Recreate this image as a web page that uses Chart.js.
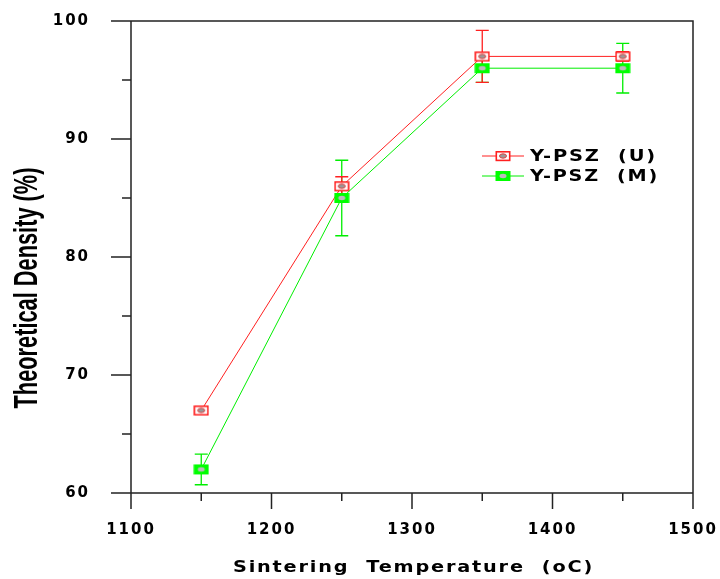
<!DOCTYPE html>
<html>
<head>
<meta charset="utf-8">
<script src="https://cdn.jsdelivr.net/npm/chart.js@4/dist/chart.umd.min.js"></script>
<style>
  html, body { margin: 0; padding: 0; background: #fff; }
  #wrap { width: 720px; height: 579px; }
</style>
</head>
<body>
<div id="wrap"><canvas id="densityChart"></canvas></div>
<script>
// data
const temps = [1150, 1250, 1350, 1450];
const uDensity = [67, 86, 97, 97];
const uError = [0, 0.8, 2.2, 0.4];
const mDensity = [62, 85, 96, 96];
const mError = [1.3, 3.2, 1.2, 2.1];
const seriesNames = ['Y-PSZ  (U)', 'Y-PSZ  (M)'];
const xTicks = [1100, 1200, 1300, 1400, 1500];
const xMinor = [1150, 1250, 1350, 1450];
const yTicks = [60, 70, 80, 90, 100];
const yMinor = [65, 75, 85, 95];
const xTitle = 'Sintering  Temperature  (oC)';
const yTitle = 'Theoretical Density (%)';

const RED = '#ff2020';
const GREEN = '#00ee00';
const FRAME = '#222';

// marker images
function makeMarker(filled) {
    const c = document.createElement('canvas');
    c.width = 16; c.height = 12;
    const g = c.getContext('2d');
    if (filled) {
        g.fillStyle = '#00ff00';
        g.fillRect(0.5, 1, 15, 10);
        g.fillStyle = '#bbbbbb';
        g.beginPath(); g.ellipse(8, 6, 3.5, 2.2, 0, 0, Math.PI * 2); g.fill();
    } else {
        g.fillStyle = '#fff';
        g.fillRect(1, 1.5, 14, 9);
        g.strokeStyle = RED; g.lineWidth = 1.6;
        g.strokeRect(1.3, 1.8, 13.4, 8.6);
        g.fillStyle = '#999';
        g.strokeStyle = '#e04040'; g.lineWidth = 1;
        g.beginPath(); g.ellipse(8, 6, 3.5, 2.2, 0, 0, Math.PI * 2); g.fill(); g.stroke();
    }
    return c;
}
const uMarker = makeMarker(false);
const mMarker = makeMarker(true);

const toPoints = (xs, ys) => xs.map((x, i) => ({ x: x, y: ys[i] }));

// no edge padding from the scales, the layout padding places the plot box
const noPad = s => { s.paddingTop = 0; s.paddingBottom = 0; s.paddingLeft = 0; s.paddingRight = 0; };

// text stretched sideways to a given width (the original face is an extended one)
function wideText(ctx, text, x, y, width) {
    const w = ctx.measureText(text).width;
    ctx.save();
    ctx.translate(x, y);
    ctx.scale(width / w, 1);
    ctx.textAlign = 'left';
    ctx.fillText(text, 0, 0);
    ctx.restore();
}

// error bars, frame, ticks, legend and axis titles
const decor = {
    id: 'decor',
    beforeLayout(chart) { chart.ctx.letterSpacing = '2px'; },
    beforeDraw(chart) { chart.ctx.letterSpacing = '2px'; },
    beforeDatasetsDraw(chart) {
        const ctx = chart.ctx, xs = chart.scales.x, ys = chart.scales.y;
        const bars = [[mDensity, mError, GREEN], [uDensity, uError, RED]];
        ctx.save();
        ctx.lineWidth = 1.3;
        bars.forEach(([vals, errs, col]) => {
            ctx.strokeStyle = col;
            temps.forEach((t, i) => {
                if (!errs[i]) return;
                const px = xs.getPixelForValue(t);
                const top = ys.getPixelForValue(vals[i] + errs[i]);
                const bot = ys.getPixelForValue(vals[i] - errs[i]);
                ctx.beginPath();
                ctx.moveTo(px, top); ctx.lineTo(px, bot);
                ctx.moveTo(px - 6.5, top); ctx.lineTo(px + 6.5, top);
                ctx.moveTo(px - 6.5, bot); ctx.lineTo(px + 6.5, bot);
                ctx.stroke();
            });
        });
        ctx.restore();
    },
    afterDraw(chart) {
        const ctx = chart.ctx, xs = chart.scales.x, ys = chart.scales.y;
        const a = chart.chartArea;
        ctx.save();
        ctx.strokeStyle = FRAME;
        ctx.lineWidth = 1.5;
        ctx.beginPath();
        // frame
        ctx.moveTo(a.left - 20, a.top); ctx.lineTo(a.right, a.top); ctx.lineTo(a.right, a.bottom + 16);
        ctx.moveTo(a.left, a.top); ctx.lineTo(a.left, a.bottom + 16);
        ctx.moveTo(a.left - 20, a.bottom); ctx.lineTo(a.right, a.bottom);
        yTicks.forEach(v => { const p = ys.getPixelForValue(v); ctx.moveTo(a.left - 20, p); ctx.lineTo(a.left, p); });
        yMinor.forEach(v => { const p = ys.getPixelForValue(v); ctx.moveTo(a.left - 9, p); ctx.lineTo(a.left, p); });
        xTicks.forEach(v => { const p = xs.getPixelForValue(v); ctx.moveTo(p, a.bottom); ctx.lineTo(p, a.bottom + 16); });
        xMinor.forEach(v => { const p = xs.getPixelForValue(v); ctx.moveTo(p, a.bottom); ctx.lineTo(p, a.bottom + 8); });
        ctx.stroke();

        // legend
        const items = [[RED, uMarker], [GREEN, mMarker]];
        ctx.font = 'bold 16px "DejaVu Sans"';
        ctx.letterSpacing = '1.5px';
        ctx.textBaseline = 'middle';
        items.forEach(([col, img], i) => {
            const ly = 156 + i * 20;
            ctx.strokeStyle = col; ctx.lineWidth = 1;
            ctx.beginPath(); ctx.moveTo(482, ly); ctx.lineTo(524, ly); ctx.stroke();
            ctx.drawImage(img, 503 - 8, ly - 6);
            ctx.fillStyle = '#000';
            wideText(ctx, seriesNames[i], 530, ly + 1, i === 0 ? 127 : 129);
        });

        // x title
        ctx.letterSpacing = '1.5px';
        ctx.font = 'bold 16px "DejaVu Sans"';
        wideText(ctx, xTitle, 233, 568, 361);

        // y title, squeezed like the original condensed face
        ctx.letterSpacing = '0px';
        ctx.font = 'bold 33px "Liberation Sans"';
        const w = ctx.measureText(yTitle).width;
        ctx.translate(37, 288);
        ctx.rotate(-Math.PI / 2);
        ctx.scale(241 / w, 1);
        ctx.textAlign = 'center';
        ctx.textBaseline = 'alphabetic';
        ctx.fillText(yTitle, 0, 0);
        ctx.restore();
    }
};

const tickFont = { family: 'DejaVu Sans', size: 15, weight: 'bold' };

new Chart(document.getElementById('densityChart'), {
    type: 'line',
    data: {
        datasets: [
            {
                label: seriesNames[1],
                data: toPoints(temps, mDensity),
                borderColor: GREEN,
                borderWidth: 1,
                pointStyle: mMarker,
                tension: 0
            },
            {
                label: seriesNames[0],
                data: toPoints(temps, uDensity),
                borderColor: RED,
                borderWidth: 1,
                pointStyle: uMarker,
                tension: 0
            }
        ]
    },
    options: {
        responsive: true,
        maintainAspectRatio: false,
        animation: false,
        layout: { padding: { top: 21, right: 27, left: 0, bottom: 0 } },
        plugins: {
            legend: { display: false },
            tooltip: { enabled: false }
        },
        scales: {
            x: {
                type: 'linear',
                min: 1100, max: 1500,
                afterFit: s => { s.height = 86; noPad(s); },
                afterBuildTicks: s => { s.ticks = xTicks.map(v => ({ value: v })); },
                grid: { display: false, drawTicks: false },
                border: { display: false },
                ticks: {
                    color: '#000', font: tickFont, padding: 28, maxRotation: 0,
                    callback: v => String(v)
                },
                title: { display: false }
            },
            y: {
                min: 60, max: 100,
                afterFit: s => { s.width = 131; noPad(s); },
                afterBuildTicks: s => { s.ticks = yTicks.map(v => ({ value: v })); },
                grid: { display: false, drawTicks: false },
                border: { display: false },
                ticks: { color: '#000', font: tickFont, padding: 41, callback: v => String(v) }
            }
        }
    },
    plugins: [decor]
});
</script>
</body>
</html>
